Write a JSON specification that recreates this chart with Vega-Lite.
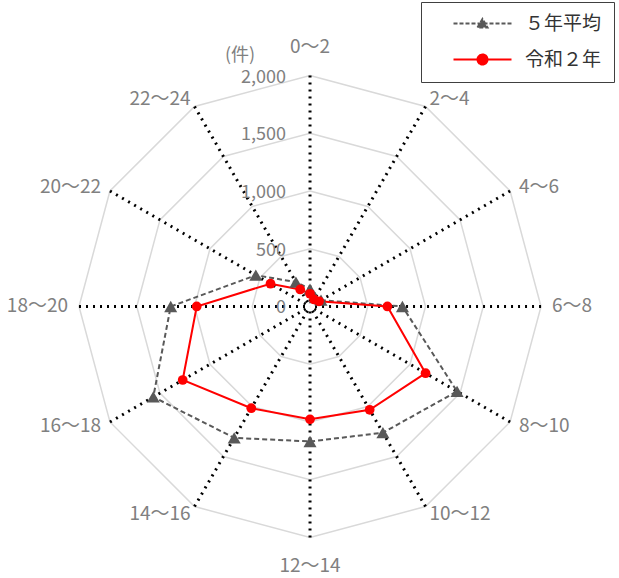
{
  "$schema": "https://vega.github.io/schema/vega-lite/v6.json",
  "width": 619,
  "height": 578,
  "autosize": "none",
  "padding": 0,
  "config": {"view": {"stroke": null}, "font": "Noto Sans CJK JP"},
  "datasets": {
    "series": [
      {"time": "0～2", "i": 0, "series": "５年平均", "value": 150},
      {"time": "2～4", "i": 1, "series": "５年平均", "value": 90},
      {"time": "4～6", "i": 2, "series": "５年平均", "value": 110},
      {"time": "6～8", "i": 3, "series": "５年平均", "value": 800},
      {"time": "8～10", "i": 4, "series": "５年平均", "value": 1470},
      {"time": "10～12", "i": 5, "series": "５年平均", "value": 1262},
      {"time": "12～14", "i": 6, "series": "５年平均", "value": 1169},
      {"time": "14～16", "i": 7, "series": "５年平均", "value": 1313},
      {"time": "16～18", "i": 8, "series": "５年平均", "value": 1567},
      {"time": "18～20", "i": 9, "series": "５年平均", "value": 1206},
      {"time": "20～22", "i": 10, "series": "５年平均", "value": 542},
      {"time": "22～24", "i": 11, "series": "５年平均", "value": 244},
      {"time": "0～2", "i": 0, "series": "令和２年", "value": 110},
      {"time": "2～4", "i": 1, "series": "令和２年", "value": 70},
      {"time": "4～6", "i": 2, "series": "令和２年", "value": 90},
      {"time": "6～8", "i": 3, "series": "令和２年", "value": 670},
      {"time": "8～10", "i": 4, "series": "令和２年", "value": 1155},
      {"time": "10～12", "i": 5, "series": "令和２年", "value": 1033},
      {"time": "12～14", "i": 6, "series": "令和２年", "value": 977},
      {"time": "14～16", "i": 7, "series": "令和２年", "value": 1017},
      {"time": "16～18", "i": 8, "series": "令和２年", "value": 1273},
      {"time": "18～20", "i": 9, "series": "令和２年", "value": 981},
      {"time": "20～22", "i": 10, "series": "令和２年", "value": 395},
      {"time": "22～24", "i": 11, "series": "令和２年", "value": 170}
    ],
    "cats": [
      {"time": "0～2", "i": 0, "rings": [500, 1000, 1500, 2000]},
      {"time": "2～4", "i": 1, "rings": [500, 1000, 1500, 2000]},
      {"time": "4～6", "i": 2, "rings": [500, 1000, 1500, 2000]},
      {"time": "6～8", "i": 3, "rings": [500, 1000, 1500, 2000]},
      {"time": "8～10", "i": 4, "rings": [500, 1000, 1500, 2000]},
      {"time": "10～12", "i": 5, "rings": [500, 1000, 1500, 2000]},
      {"time": "12～14", "i": 6, "rings": [500, 1000, 1500, 2000]},
      {"time": "14～16", "i": 7, "rings": [500, 1000, 1500, 2000]},
      {"time": "16～18", "i": 8, "rings": [500, 1000, 1500, 2000]},
      {"time": "18～20", "i": 9, "rings": [500, 1000, 1500, 2000]},
      {"time": "20～22", "i": 10, "rings": [500, 1000, 1500, 2000]},
      {"time": "22～24", "i": 11, "rings": [500, 1000, 1500, 2000]}
    ],
    "levels": [
      {"level": 0},
      {"level": 500},
      {"level": 1000},
      {"level": 1500},
      {"level": 2000}
    ]
  },
  "layer": [
    {
      "data": {"name": "cats"},
      "transform": [
        {"flatten": ["rings"]},
        {"calculate": "datum.i * PI / 6", "as": "a"},
        {"calculate": "datum.rings * sin(datum.a)", "as": "gx"},
        {"calculate": "datum.rings * cos(datum.a)", "as": "gy"}
      ],
      "mark": {"type": "line", "interpolate": "linear-closed", "stroke": "#d9d9d9", "strokeWidth": 1.5},
      "encoding": {
        "x": {"field": "gx", "type": "quantitative", "scale": {"domain": [-2684, 2675], "nice": false, "zero": false}, "axis": null},
        "y": {"field": "gy", "type": "quantitative", "scale": {"domain": [-2351, 2654], "nice": false, "zero": false}, "axis": null},
        "detail": {"field": "rings", "type": "nominal"},
        "order": {"field": "i", "type": "quantitative"}
      }
    },
    {
      "data": {"name": "cats"},
      "transform": [
        {"calculate": "datum.i * PI / 6", "as": "a"},
        {"calculate": "2000 * sin(datum.a)", "as": "sx"},
        {"calculate": "2000 * cos(datum.a)", "as": "sy"}
      ],
      "mark": {"type": "rule", "color": "#000000", "strokeWidth": 3, "strokeDash": [2, 5]},
      "encoding": {
        "x": {"field": "sx", "type": "quantitative"},
        "y": {"field": "sy", "type": "quantitative"},
        "x2": {"datum": 0},
        "y2": {"datum": 0}
      }
    },
    {
      "data": {"name": "levels"},
      "mark": {"type": "text", "align": "right", "baseline": "middle", "dx": -24, "dy": 2, "fontSize": 18, "color": "#808080"},
      "encoding": {
        "x": {"datum": 0, "type": "quantitative"},
        "y": {"field": "level", "type": "quantitative"},
        "text": {"field": "level", "type": "quantitative", "format": ","}
      }
    },
    {
      "data": {"name": "cats"},
      "transform": [
        {"calculate": "datum.i * PI / 6", "as": "a"},
        {"calculate": "2000 * sin(datum.a) + 95 * sin(datum.a) * sqrt(abs(sin(datum.a)))", "as": "lx"},
        {"calculate": "2000 * cos(datum.a) + (abs(cos(datum.a)) > 0.99 ? 245 * cos(datum.a) : 75 * cos(datum.a))", "as": "ly"}
      ],
      "mark": {
        "type": "text",
        "align": {"expr": "datum.i == 0 || datum.i == 6 ? 'center' : (datum.i < 6 ? 'left' : 'right')"},
        "baseline": "middle",
        "fontSize": 19,
        "color": "#808080"
      },
      "encoding": {
        "x": {"field": "lx", "type": "quantitative"},
        "y": {"field": "ly", "type": "quantitative"},
        "text": {"field": "time", "type": "nominal"}
      }
    },
    {
      "data": {"values": [{"unit": "(件)"}]},
      "mark": {"type": "text", "align": "center", "baseline": "middle", "fontSize": 18, "color": "#808080"},
      "encoding": {
        "x": {"datum": -606, "type": "quantitative"},
        "y": {"datum": 2165, "type": "quantitative"},
        "text": {"field": "unit", "type": "nominal"}
      }
    },
    {
      "data": {"name": "series"},
      "transform": [
        {"filter": "datum.series === '５年平均'"},
        {"calculate": "datum.i * PI / 6", "as": "a"},
        {"calculate": "datum.value * sin(datum.a)", "as": "px"},
        {"calculate": "datum.value * cos(datum.a)", "as": "py"}
      ],
      "mark": {"type": "line", "interpolate": "linear-closed", "strokeWidth": 2, "strokeDash": [5, 3]},
      "encoding": {
        "x": {"field": "px", "type": "quantitative"},
        "y": {"field": "py", "type": "quantitative"},
        "order": {"field": "i", "type": "quantitative"},
        "color": {
          "field": "series",
          "type": "nominal",
          "scale": {"domain": ["５年平均", "令和２年"], "range": ["#595959", "#ff0000"]},
          "legend": {
            "orient": "none",
            "legendX": 421,
            "legendY": 2,
            "title": " ",
            "titleOrient": "left",
            "titleFontSize": 10,
            "titlePadding": 12,
            "padding": 12,
            "strokeColor": "#404040",
            "fillColor": "#ffffff",
            "cornerRadius": 0,
            "labelFontSize": 19,
            "labelColor": "#333333",
            "labelFont": "Noto Sans CJK JP",
            "symbolSize": 100,
            "labelOffset": 61,
            "rowPadding": 16,
            "encode": {
              "symbols": {
                "update": {
                  "shape": {"signal": "datum.value === '５年平均' ? 'M-0.2,0H11.4M4.6,0.8L5.6,-0.9L6.6,0.8Z' : 'M-0.2,0H11.4M4.6,0A1,1 0 1,0 6.6,0A1,1 0 1,0 4.6,0Z'"},
                  "fill": {"signal": "datum.value === '５年平均' ? '#595959' : '#ff0000'"},
                  "stroke": {"signal": "datum.value === '５年平均' ? '#595959' : '#ff0000'"},
                  "strokeDash": {"signal": "datum.value === '５年平均' ? [4, 2] : [1, 0]"},
                  "strokeWidth": {"value": 2},
                  "opacity": {"value": 1}
                }
              }
            }
          }
        }
      }
    },
    {
      "data": {"name": "series"},
      "transform": [
        {"filter": "datum.series === '令和２年'"},
        {"calculate": "datum.i * PI / 6", "as": "a"},
        {"calculate": "datum.value * sin(datum.a)", "as": "px"},
        {"calculate": "datum.value * cos(datum.a)", "as": "py"}
      ],
      "mark": {"type": "line", "interpolate": "linear-closed", "strokeWidth": 2},
      "encoding": {
        "x": {"field": "px", "type": "quantitative"},
        "y": {"field": "py", "type": "quantitative"},
        "order": {"field": "i", "type": "quantitative"},
        "color": {"field": "series", "type": "nominal"}
      }
    },
    {
      "data": {"name": "series"},
      "transform": [
        {"filter": "datum.series === '５年平均'"},
        {"calculate": "datum.i * PI / 6", "as": "a"},
        {"calculate": "datum.value * sin(datum.a)", "as": "px"},
        {"calculate": "datum.value * cos(datum.a)", "as": "py"}
      ],
      "mark": {"type": "point", "filled": true, "opacity": 1, "shape": "triangle-up", "size": 170},
      "encoding": {
        "x": {"field": "px", "type": "quantitative"},
        "y": {"field": "py", "type": "quantitative"},
        "color": {"field": "series", "type": "nominal"}
      }
    },
    {
      "data": {"name": "series"},
      "transform": [
        {"filter": "datum.series === '令和２年'"},
        {"calculate": "datum.i * PI / 6", "as": "a"},
        {"calculate": "datum.value * sin(datum.a)", "as": "px"},
        {"calculate": "datum.value * cos(datum.a)", "as": "py"}
      ],
      "mark": {"type": "point", "filled": true, "opacity": 1, "shape": "circle", "size": 95},
      "encoding": {
        "x": {"field": "px", "type": "quantitative"},
        "y": {"field": "py", "type": "quantitative"},
        "color": {"field": "series", "type": "nominal"}
      }
    }
  ]
}
